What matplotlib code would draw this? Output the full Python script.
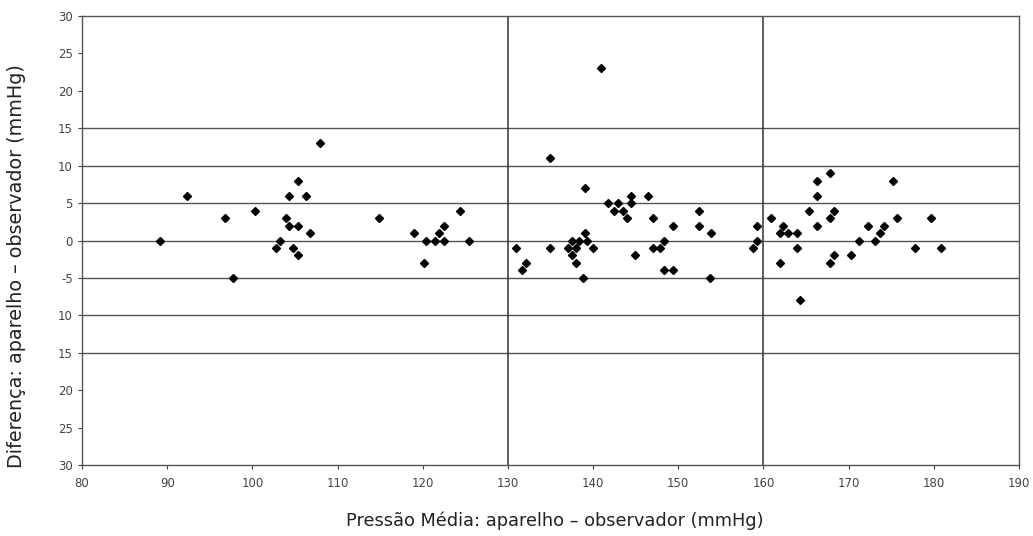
import matplotlib.pyplot as plt

# pressão média (x) e diferença aparelho - observador (y)
media = [89.2, 92.3, 96.8, 97.7, 100.3, 102.8, 103.2, 103.9, 104.3, 104.3,
         104.8, 105.4, 105.4, 105.4, 106.3, 106.8, 107.9,
         114.9, 119.0, 120.1, 120.4, 121.4, 121.9, 122.5, 122.5, 124.4, 125.4,
         131.0, 131.6, 132.1, 135.0, 135.0, 137.0, 137.5, 137.5, 138.0, 138.0,
         138.4, 139.0, 139.0, 138.8, 139.3, 140.0, 140.9, 141.8, 142.9, 142.4,
         143.5, 144.0, 144.5, 144.9, 144.5, 146.5, 147.0, 147.0, 147.9, 148.3,
         149.4, 148.3, 149.4, 152.4, 152.4, 153.8, 153.7,
         158.8, 159.2, 159.3, 160.9, 161.9, 162.3, 161.9, 162.9, 163.9, 163.9,
         164.3, 165.3, 166.3, 166.3, 166.3, 167.8, 167.8, 168.3, 167.8, 168.3,
         170.3, 171.2, 172.3, 173.1, 173.7, 174.2, 175.2, 175.7, 177.8, 179.7,
         180.8]
diferenca = [0, 6, 3, -5, 4, -1, 0, 3, 2, 6,
             -1, 2, -2, 8, 6, 1, 13,
             3, 1, -3, 0, 0, 1, 2, 0, 4, 0,
             -1, -4, -3, 11, -1, -1, 0, -2, -3, -1,
             0, 7, 1, -5, 0, -1, 23, 5, 5, 4,
             4, 3, 6, -2, 5, 6, 3, -1, -1, 0,
             2, -4, -4, 4, 2, 1, -5,
             -1, 0, 2, 3, 1, 2, -3, 1, 1, -1,
             -8, 4, 8, 6, 2, 9, 3, 4, -3, -2,
             -2, 0, 2, 0, 1, 2, 8, 3, -1, 3,
             -1]
yticks = [-30, -25, -20, -15, -10, -5, 0, 5, 10, 15, 20, 25, 30]
ytick_labels = ["30", "25", "20", "15", "10", "-5", "0", "5", "10", "15", "20", "25", "30"]
xticks = [80, 90, 100, 110, 120, 130, 140, 150, 160, 170, 180, 190]
hlines = [-15, -10, -5, 0, 5, 10, 15]
vlines = [130, 160]

fig = plt.figure(figsize=(10.33, 5.36), dpi=100)
ax = fig.add_axes([0.0794, 0.1325, 0.9070, 0.8375])

for h in hlines:
    ax.axhline(h, color='#555555', lw=1.0, zorder=1)
for v in vlines:
    ax.axvline(v, color='#333333', lw=1.1, zorder=1)

ax.plot(media, diferenca, 'D', color='black', markersize=3.6, zorder=3)

ax.set_xlim(80, 190)
ax.set_ylim(-30, 30)
ax.set_xticks(xticks)
ax.set_yticks(yticks)
ax.set_yticklabels(ytick_labels)
ax.tick_params(axis='both', labelsize=8.5, colors='#444444', length=3, width=0.8)
ax.tick_params(axis='x', pad=6)
for s in ax.spines.values():
    s.set_color('#555555')
    s.set_linewidth(1.0)

fig.text(0.016, 0.504, 'Diferença: aparelho – observador (mmHg)', rotation=90,
         ha='center', va='center', fontsize=13.8, color='#222222')
fig.text(0.537, 0.028, 'Pressão Média: aparelho – observador (mmHg)',
         ha='center', va='center', fontsize=12.8, color='#222222')

plt.savefig('out.png', dpi=100)
